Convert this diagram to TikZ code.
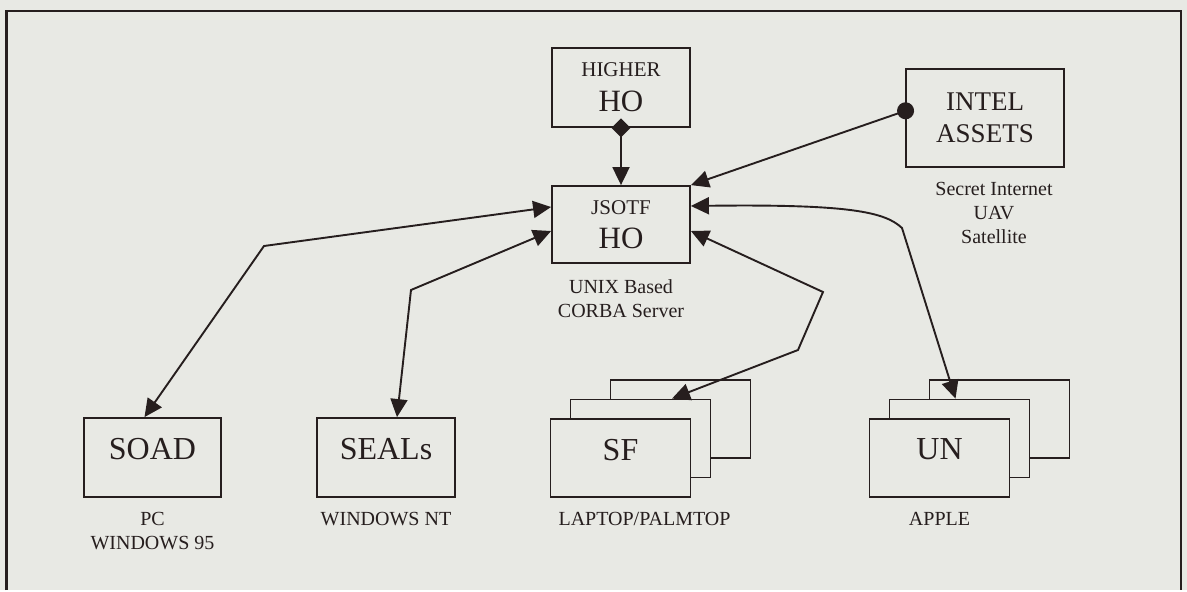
\documentclass[tikz,border=0pt]{standalone}
\usepackage{fontspec}
\setmainfont{Liberation Serif}
\usepackage{tikz}
\usetikzlibrary{calc}
\usetikzlibrary{arrows.meta}
\usetikzlibrary{positioning}
\definecolor{paper}{RGB}{232,233,228}
\definecolor{ink}{RGB}{38,30,30}
\tikzset{box/.style={rectangle,draw=ink,fill=paper,line width=1.8pt,inner sep=0pt,align=center,text=ink}}
\tikzset{host/.style={box,minimum width=140pt,minimum height=78pt,font=\fontsize{32}{36}\selectfont,text depth=17pt}}
\tikzset{tag/.style={inner sep=0pt,align=center,text=ink,font=\fontsize{20}{24}\selectfont}}
\tikzset{link/.style={line width=1.9pt,draw=ink}}

\begin{document}
\begin{tikzpicture}[x=1pt,y=-1pt,>={Triangle[length=18pt,width=17pt]}]
\fill[paper] (0,0) rectangle (1187,590);
\draw[ink,line width=2.8pt] (6.5,590) |- (1181,11) -- (1181,590);

% command posts
\node[box,minimum width=138pt,minimum height=79pt,font=\fontsize{31}{35}\selectfont] (higher) at (621,87.5) {{\fontsize{21}{24}\selectfont HIGHER}\\HO};
\node[box,minimum width=138pt,minimum height=77pt,font=\fontsize{31}{34}\selectfont] (jsotf) at (621,224.5) {{\fontsize{21}{24}\selectfont JSOTF}\\HO};
\node[box,minimum width=158pt,minimum height=98pt,font=\fontsize{27}{32}\selectfont] (intel) at (985,118) {INTEL\\ASSETS};

% clients
\node[host,minimum width=137pt,minimum height=79pt] (soad) at (152.5,457.5) {SOAD};
\node[host,minimum width=138pt,minimum height=79pt] (seals) at (386,457.5) {SEALs};
\foreach \s/\t/\x in {sf/SF/620.5,un/UN/939.5} {
	\node[host] (\s3) at ($ (\x,458) + (60,-39) $) {};
	\node[host] (\s2) at ($ (\x,458) + (20,-19.5) $) {};
	\node[host] (\s1) at (\x,458) {\t};
}

\node[tag,below=14pt of intel,xshift=9pt] (intelnote) {Secret Internet\\UAV\\Satellite};
\node[tag,below=16pt of jsotf] (jsotfnote) {UNIX Based\\CORBA Server};
\node[tag,below=14pt of soad] (soadnote) {PC\\WINDOWS 95};
\node[tag,below=14pt of seals] (sealsnote) {WINDOWS NT};
\node[tag,below=14pt of sf1,xshift=24pt] (sfnote) {LAPTOP/PALMTOP};
\node[tag,below=14pt of un1] (unnote) {APPLE};

% links
\coordinate (soadbend) at (264,246);
\coordinate (sealsbend) at (411,290);
\coordinate (sfbend1) at (823,292);
\coordinate (sfbend2) at (798,350);
\coordinate (unbend) at (902,228);
\draw[link,{Diamond[length=19pt,width=19pt]}->] ($ (higher.south) + (0,-9.5) $) -- (jsotf.north);
\draw[link,{Circle[length=17pt]}->] ($ (intel.west) + (8.5,-10) $) -- (jsotf.north east);
\draw[link,<->] ($ (soad.north) + (-8,0) $) -- (soadbend) -- ($ (jsotf.west) + (0,-17.5) $);
\draw[link,<->] ($ (seals.north) + (11,0) $) -- (sealsbend) -- ($ (jsotf.west) + (0,6.5) $);
\draw[link,<->] ($ (jsotf.east) + (0,6.5) $) -- (sfbend1) -- (sfbend2) -- ($ (sf2.north) + (31.5,0) $);
\draw[link,<->] ($ (jsotf.east) + (0,-18.5) $) .. controls (850,204) and (885,212) .. (unbend) -- ($ (un2.north) + (-4,0) $);
\end{tikzpicture}
\end{document}
